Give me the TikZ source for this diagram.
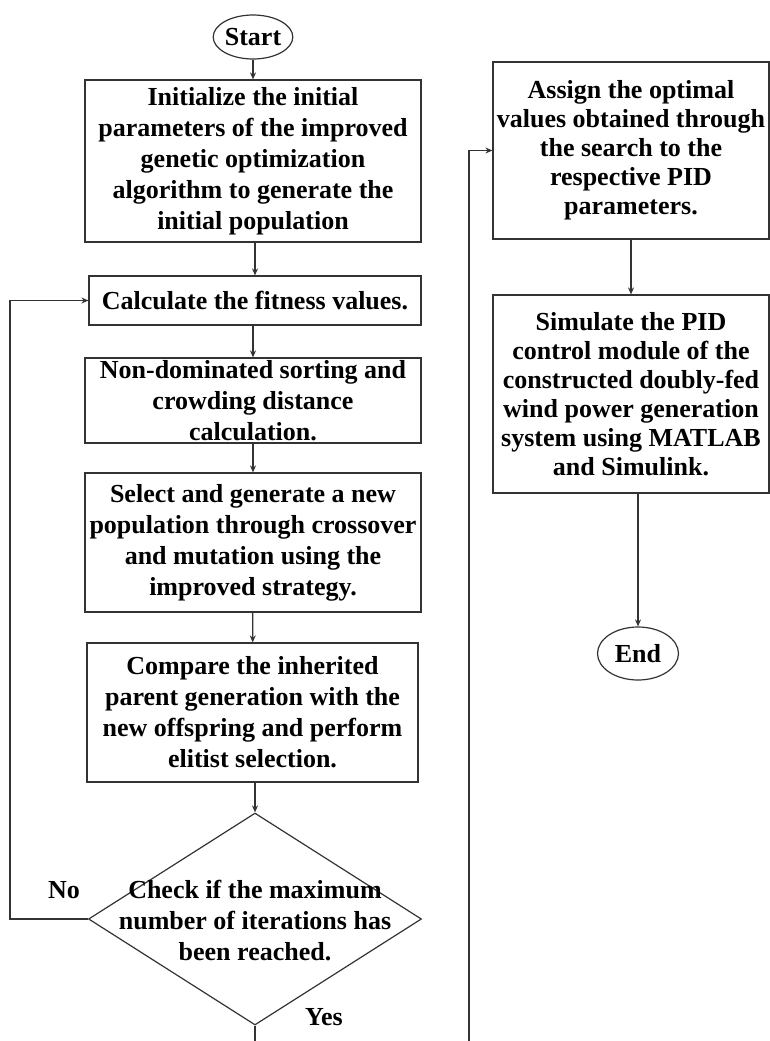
\documentclass[tikz,border=0pt]{standalone}
\usepackage{fontspec}
\setmainfont{Liberation Serif}
\usetikzlibrary{shapes.geometric,arrows.meta}

\begin{document}
\begin{tikzpicture}[x=1pt, y=-1pt,
  every node/.style={font=\fontsize{26}{31}\selectfont\bfseries, align=center},
  box/.style={draw=black!80, line width=1.2pt, inner sep=0pt},
  rbox/.style={box, font=\fontsize{26}{29}\selectfont\bfseries},
  term/.style={draw=black!80, ellipse, line width=1.2pt, inner sep=0pt},
  decision/.style={draw=black!80, diamond, line width=1.2pt, inner sep=0pt},
  arrow/.style={draw=black!80, line width=1.2pt, -{Stealth[length=7pt,width=6pt]}}]
\useasboundingbox (0,0) rectangle (770,1041);

% left column
\node[term, minimum width=75pt, minimum height=44pt] (start) at (253,37) {Start};
\node[box, minimum width=336pt, minimum height=162pt] (init) at (253,161)
  {Initialize the initial\\parameters of the improved\\genetic optimization\\algorithm to generate the\\initial population};
\node[box, minimum width=332pt, minimum height=49pt] (calc) at (255,300.5) {Calculate the fitness values.};
\node[box, minimum width=336pt, minimum height=85pt] (nondom) at (253,400.5)
  {Non-dominated sorting and\\crowding distance\\calculation.};
\node[box, minimum width=336pt, minimum height=139pt] (select) at (253,542.5)
  {Select and generate a new\\population through crossover\\and mutation using the\\improved strategy.};
\node[box, minimum width=331pt, minimum height=139pt] (compare) at (252.5,712.5)
  {Compare the inherited\\parent generation with the\\new offspring and perform\\elitist selection.};
\node[decision, minimum width=333pt, minimum height=212pt] (check) at (255,919) {};
\node[inner sep=0pt] (checktext) at (255,921)
  {Check if the maximum\\number of iterations has\\been reached.};
\node (no) at (64,890) {No};
\node (yes) at (324,1017) {Yes};

% right column
\node[rbox, minimum width=276pt, minimum height=177pt] (assign) at (631,150.5)
  {Assign the optimal\\values obtained through\\the search to the\\respective PID\\parameters.};
\node[rbox, minimum width=276pt, minimum height=198pt] (simulate) at (631,394)
  {Simulate the PID\\control module of the\\constructed doubly-fed\\wind power generation\\system using MATLAB\\and Simulink.};
\node[term, minimum width=81pt, minimum height=53pt] (stop) at (638,653.5) {End};

\coordinate (loop) at (10,919);
\coordinate (yesend) at (255,1041);
\coordinate (upstart) at (469,1041);

\draw[arrow] (start) -- (init);
\draw[arrow] (init.south -| calc) -- (calc);
\draw[arrow] (calc.south -| nondom) -- (nondom);
\draw[arrow] (nondom) -- (select);
\draw[arrow] (select) -- (compare);
\draw[arrow] (compare.south -| check) -- (check);
\draw[arrow] (check.west) -- (loop) |- (calc.west);
\draw[draw=black!80, line width=1.2pt] (check.south) -- (yesend);
\draw[arrow] (upstart) |- (assign.west);
\draw[arrow] (assign) -- (simulate);
\draw[arrow] (simulate.south -| stop) -- (stop);
\end{tikzpicture}
\end{document}
